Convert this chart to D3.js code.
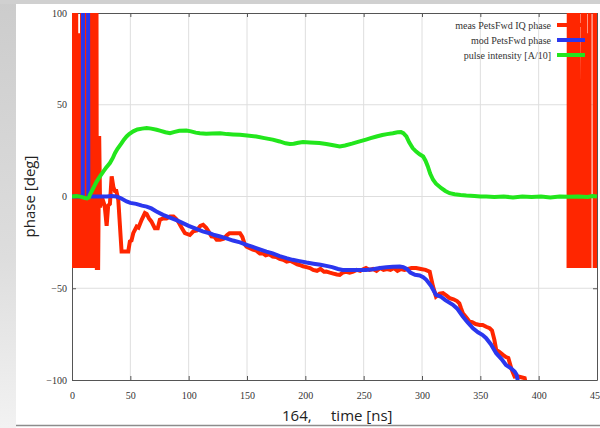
<!DOCTYPE html>
<html>
<head>
<meta charset="utf-8">
<script src="https://cdn.jsdelivr.net/npm/d3@7"></script>
<style>
  html, body { margin: 0; padding: 0; background: #ffffff; }
  svg { display: block; }
</style>
</head>
<body>
<svg id="chart" width="600" height="428"></svg>
<script>
// Axis ticks
const timeTicks = [0, 50, 100, 150, 200, 250, 300, 350, 400, 450];
const phaseTicks = [-100, -50, 0, 50, 100];

// Series labels
const seriesNames = ["meas PetsFwd IQ phase", "mod PetsFwd phase", "pulse intensity [A/10]"];
const seriesColors = ["#ff2600", "#2b37ee", "#22e61c"];

// Measured PETS forward IQ phase [time ns, phase deg]; null marks a gap in the record
const measPhase = [
  [0,-39],[0.4,200],[0.9,-39],[1.4,200],[1.9,-39],[2.4,200],[2.9,-39],[3.4,200],[3.9,-39],
  [4.5,89],[5.0,-39],[5.6,89],[6.1,-39],[6.7,89],[7.2,-39],[7.8,89],[8.3,-39],
  [8.8,200],[9.3,-39],[9.8,200],[10.3,-39],[10.8,200],[11.3,-39],[11.8,200],[12.3,-39],
  [12.8,200],[13.3,-39],[13.8,200],[14.3,-39],[14.8,200],[15.3,-39],[15.8,200],[16.3,-39],
  [16.8,200],[17.3,-39],[17.8,200],[18.3,-39],[18.8,200],[19.3,-39],[19.8,200],[20.3,-39],
  [20.8,200],[21.3,-39],[21.7,-39],[22.4,-39],
  [23.3,33],[24.1,-6],[25.4,0],[28,-5],[29.7,-16],[31,-5],[32.5,-4],[34,11],[35.5,5],
  [36.8,3],[38,3],[39.7,-2],[42.5,-30],[48.2,-30],[49.6,-24.5],[51,-24],[52.5,-20],
  [55.4,-16.4],[57,-17],[59.7,-12.7],[62.5,-9],[64,-9.5],[66,-12],[68,-13.6],[71,-17.3],
  [73.5,-17.3],[75.3,-12.7],[78,-12],[81,-12],[84,-10.9],[87,-10.9],[89,-12],[91,-13.6],
  [94,-17],[96.8,-20],[101,-21],[104,-19],[107,-18.5],[110,-16],[112.4,-15.4],[115,-17],
  [117,-19],[119.6,-21.8],[122,-22],[124,-23.6],[127,-23.6],[130,-23],[133,-21],[135,-20],
  [138,-20],[141,-20],[144,-20],[146,-22],[148,-26],[149.6,-27.3],[152,-28],[155,-29],
  [158,-29.5],[161,-31],[163.6,-31],[166,-32],[169,-31.5],[172,-32.7],[175,-33],[178,-34],
  [181,-34.5],[184,-35.5],[187,-35],[190,-36],[193,-37],[195,-37.3],[198,-38],[201,-38.5],
  [204,-39],[206.7,-40],[210,-40.5],[213,-39.5],[216,-41],[218,-40.9],[221,-41.5],[224,-42],
  [227,-42.5],[229.5,-42.7],[232,-41.5],[235,-41],[238,-41.5],[241,-40.9],[244,-40],
  [247,-40.5],[250,-39.5],[252,-39],[255,-40],[258,-39.5],[261,-40.5],[264,-39],[267,-40],
  [270,-39.5],[273,-40],[276,-39],[279,-40.5],[282,-39.5],[285,-40],[288,-39.5],[291,-39],
  [295,-39],[299,-39.5],[303,-40],[306.6,-41],[308,-45],[309.4,-49],[312,-54.5],[315,-53],
  [318,-52.7],[321,-54],[323.7,-55.4],[327,-56],[330,-57],[332,-58.2],[333.5,-61],
  [335,-63.6],[338,-66],[340.8,-68.2],[343,-68.5],[346,-69.5],[349.4,-70],[352,-70],
  [355,-71],[358,-71.8],[360,-73],[362,-78],[363.6,-83.6],[366,-84.5],[369.4,-86.3],
  [372,-87.5],[374,-88],[376.5,-93.6],[378,-96],[379.4,-98.2],[382,-98],[385,-98.5],
  [388,-99],[389,-102],[395,-110],[410,-120],[425,-135],[425.3,null],
  [425.6,-39],[425.9,200],[426.4,-39],[426.9,200],[427.4,-39],[427.9,200],[428.4,-39],
  [428.9,200],[429.4,-39],[429.9,200],[430.4,-39],[430.9,200],[431.4,-39],[431.9,200],
  [432.4,-39],[432.9,200],[433.4,-39],[433.9,200],[434.3,-39],[436.3,32],[436.8,-39],
  [438.6,200],[439.1,-39],[439.6,200],[440.1,-39],[440.7,89],[441.3,-39],[441.9,89],
  [442.5,-39],[443.2,89],[443.6,-39],[443.8,300],[447.6,300],[448.0,-39],[448.6,200],
  [449.2,-39],[450,200]
];

// Modelled PETS forward phase [time ns, phase deg]
const modPhase = [
  [0,0],[3,0],[6,0],[9.2,0],[9.6,200],[13.6,200],[14,0],[18,0],[22,0],[26,0],[30,0],
  [34,0.3],[38,0],[42,-1],[46.8,-2.7],[50,-3.5],[55,-4],[60,-5],[64,-5.5],[68,-6.5],
  [72,-8],[78,-10],[84,-11.5],[90,-13],[95,-14.5],[100,-16],[106,-17.5],[112,-19],
  [118,-20],[122,-21],[127,-21.8],[133,-23],[138,-24],[144,-25],[149.6,-26.3],[155,-27.5],
  [161,-28.8],[166.7,-30],[172,-31],[178,-32.5],[183.8,-33.6],[189,-34.5],[195,-35.2],
  [201,-36],[207,-36.6],[213,-37.2],[218,-37.8],[223,-38.5],[228,-39.5],[232,-40],
  [240,-40],[246,-40],[252,-40],[258,-39.6],[264,-39],[269.5,-38.5],[275,-38.3],
  [281,-38.2],[284,-38.5],[287,-39.5],[290,-41.5],[294,-42.7],[298,-43],[301,-44],
  [303.7,-45.4],[308,-49],[312,-53.6],[316,-54.5],[320,-56.5],[326.5,-59],[330,-61],
  [335,-65.4],[339,-68.5],[343.7,-71.8],[348,-74],[352,-75.5],[355,-77.2],[359,-80.5],
  [363.6,-85.4],[368,-88.5],[372,-91.8],[376,-93.5],[379.4,-95.4],[381,-97],[382,-100],[383,-104]
];

// Beam pulse intensity, scaled by 1/10 [time ns, A/10]
const pulseIntensity = [
  [0,0],[4,0.2],[8,-0.2],[11,-0.8],[13,-1],[14.5,-0.5],[15.4,1],[17,3],[19,5.5],[21,8],
  [24,11],[26.8,13.6],[29,15.5],[32.5,18.2],[35,21],[36.8,23.6],[39,26],[42.5,29.1],
  [44.5,31],[46.8,32.7],[49,34],[52.5,35.5],[56,36.5],[60,37],[64,37.3],[68,37],
  [72.5,36.4],[76,35.8],[80,35],[84,34.5],[88,35.2],[92,35.8],[98,36],[102,35.5],
  [106,34.8],[109.6,34.5],[115,34.2],[120,34.3],[127,34.5],[133,34],[138,33.8],[144,33.6],
  [150,33.2],[158,32.7],[165,31.8],[172,31],[178,30],[183,29],[186.7,28.6],[190,28.8],
  [194,29.3],[198,29.7],[204,29.4],[212,29.1],[218,28.6],[224,27.9],[229.5,27.3],
  [234,27.8],[240,28.8],[246.6,30],[252,31],[256,31.8],[261,32.7],[266,33.5],[270,34],
  [275,34.5],[279,35],[282,35.1],[284,34.5],[286.6,32.7],[289,29.5],[292,26.4],[295,24.5],
  [298,23],[301,21.8],[303,19.5],[305,16.4],[307,12.5],[309.5,9.1],[312,7],[316.6,4.5],
  [320,3],[323.7,1.8],[328,1.2],[333,0.8],[338,0.5],[345,0.3],[350,0],[355,0],[362,-0.3],
  [370,0],[378,-0.5],[386,0],[394,-0.3],[402,0],[410,-0.5],[418,0],[426,-0.2],[434,0],
  [442,-0.3],[446,0.3],[450,0]
];

const svg = d3.select("#chart");
const W = 600, H = 428;
const plot = { left: 72, right: 597, top: 13, bottom: 380 };

// Window backdrop: grey frame strips around the white page
const defs = svg.append("defs");
const grad = defs.append("linearGradient").attr("id", "sideShade")
  .attr("x1", 0).attr("y1", 0).attr("x2", 0).attr("y2", 1);
grad.append("stop").attr("offset", "0%").attr("stop-color", "#cccccc");
grad.append("stop").attr("offset", "60%").attr("stop-color", "#dddddd");
grad.append("stop").attr("offset", "100%").attr("stop-color", "#f2f2f2");

svg.append("rect").attr("x", 0).attr("y", 0).attr("width", W).attr("height", H).attr("fill", "#ffffff");
svg.append("rect").attr("x", 0).attr("y", 0).attr("width", 16).attr("height", H).attr("fill", "url(#sideShade)");
svg.append("rect").attr("x", 0).attr("y", 0).attr("width", W).attr("height", 4).attr("fill", "#d0d0d0");
svg.append("line").attr("x1", 16).attr("x2", W).attr("y1", 425.5).attr("y2", 425.5)
  .attr("stroke", "#8c8c8c").attr("stroke-width", 1.5);

const x = d3.scaleLinear().domain([0, 450]).range([plot.left, plot.right]);
const y = d3.scaleLinear().domain([-100, 100]).range([plot.bottom, plot.top]);

defs.append("clipPath").attr("id", "plotClip").append("rect")
  .attr("x", plot.left).attr("y", plot.top)
  .attr("width", plot.right - plot.left).attr("height", plot.bottom - plot.top);

// Grid
const grid = svg.append("g").attr("stroke", "#dedede").attr("stroke-width", 1);
grid.selectAll("line.vx").data(timeTicks.slice(1, -1)).join("line")
  .attr("x1", d => x(d)).attr("x2", d => x(d))
  .attr("y1", plot.top).attr("y2", plot.bottom);
grid.selectAll("line.hy").data(phaseTicks.slice(1, -1)).join("line")
  .attr("x1", plot.left).attr("x2", plot.right)
  .attr("y1", d => y(d)).attr("y2", d => y(d));

// Axes with inward ticks on all four sides
const tickFont = g => g.selectAll("text")
  .attr("font-family", "'Liberation Serif', 'Times New Roman', serif")
  .attr("font-size", 10).attr("fill", "#333");
const axisStyle = g => {
  g.select(".domain").attr("stroke", "#555").attr("stroke-width", 1);
  g.selectAll(".tick line").attr("stroke", "#555");
};

svg.append("g").attr("transform", `translate(0,${plot.bottom})`)
  .call(d3.axisBottom(x).tickValues(timeTicks).tickSize(-4).tickSizeOuter(0).tickPadding(12))
  .call(axisStyle).call(tickFont);
svg.append("g").attr("transform", `translate(0,${plot.top})`)
  .call(d3.axisTop(x).tickValues(timeTicks).tickSize(-4).tickSizeOuter(0).tickFormat(""))
  .call(axisStyle);
svg.append("g").attr("transform", `translate(${plot.left},0)`)
  .call(d3.axisLeft(y).tickValues(phaseTicks).tickSize(-4).tickSizeOuter(0).tickPadding(5))
  .call(axisStyle).call(tickFont);
svg.append("g").attr("transform", `translate(${plot.right},0)`)
  .call(d3.axisRight(y).tickValues(phaseTicks).tickSize(-4).tickSizeOuter(0).tickFormat(""))
  .call(axisStyle);

// Data lines
const line = d3.line()
  .defined(d => d[1] !== null)
  .x(d => x(d[0])).y(d => y(d[1]));
const dataLayer = svg.append("g").attr("clip-path", "url(#plotClip)");
[measPhase, modPhase, pulseIntensity].forEach((series, i) => {
  dataLayer.append("path").datum(series)
    .attr("d", line)
    .attr("fill", "none")
    .attr("stroke", seriesColors[i])
    .attr("stroke-width", 4)
    .attr("stroke-linejoin", "miter")
    .attr("stroke-miterlimit", 2);
});

// Legend
const legend = svg.append("g");
seriesNames.forEach((name, i) => {
  const ly = 25 + i * 15;
  legend.append("text").attr("x", 551).attr("y", ly + 3.5)
    .attr("text-anchor", "end")
    .attr("font-family", "'Liberation Serif', 'Times New Roman', serif")
    .attr("font-size", 10).attr("fill", "#333").text(name);
  legend.append("line").attr("x1", 557).attr("x2", 585).attr("y1", ly).attr("y2", ly)
    .attr("stroke", seriesColors[i]).attr("stroke-width", 4);
});

// Axis titles
svg.append("text")
  .attr("transform", `translate(35,${y(0)}) rotate(-90)`)
  .attr("text-anchor", "middle")
  .attr("font-family", "'Open Sans', 'DejaVu Sans', sans-serif")
  .attr("font-size", 15).attr("fill", "#222")
  .text("phase [deg]");
svg.append("text").attr("x", 282).attr("y", 421)
  .attr("font-family", "'Open Sans', 'DejaVu Sans', sans-serif")
  .attr("font-size", 15).attr("fill", "#222").text("164,");
svg.append("text").attr("x", 331).attr("y", 421)
  .attr("font-family", "'Open Sans', 'DejaVu Sans', sans-serif")
  .attr("font-size", 15).attr("fill", "#222").text("time [ns]");
</script>
</body>
</html>
